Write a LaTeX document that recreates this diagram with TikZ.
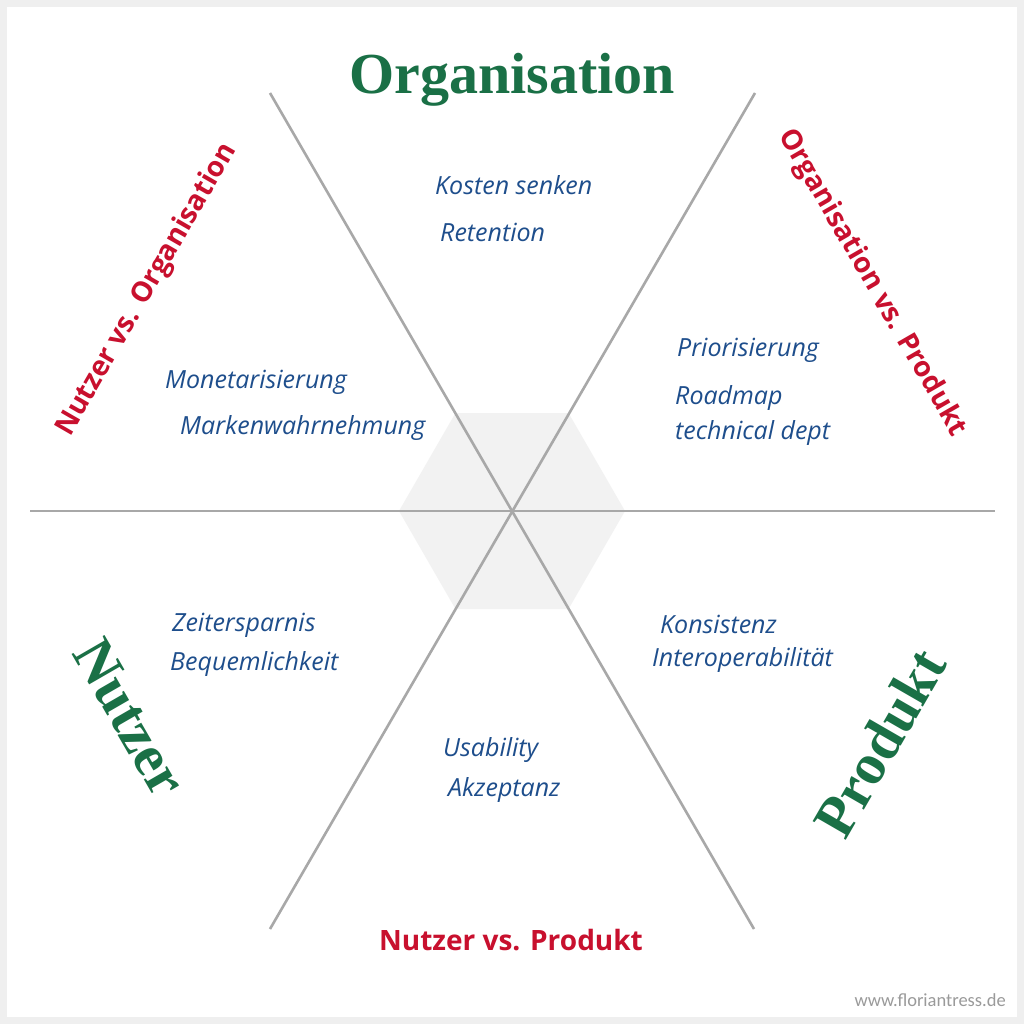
\documentclass[tikz,border=0pt]{standalone}
\usepackage{fontspec}
\setmainfont{Liberation Serif}
\newfontfamily\redfont{Open Sans}
\newfontfamily\handfont{Open Sans}
\newfontfamily\markfont{Carlito}
\definecolor{frame}{HTML}{EFEFEF}
\definecolor{hexfill}{HTML}{F2F2F2}
\definecolor{axis}{HTML}{A8A8A8}
\definecolor{dimgreen}{HTML}{1A7046}
\definecolor{dimred}{HTML}{C8102E}
\definecolor{ink}{HTML}{1E4E8C}
\definecolor{mark}{HTML}{9A9A9A}
\tikzset{
  axisline/.style={draw=axis, line width=2.6pt},
  dimlabel/.style={text=dimgreen, font=\fontsize{58}{60}\selectfont\bfseries, inner sep=0pt},
  pairlabel/.style={text=dimred, font=\redfont\fontsize{28}{30}\selectfont\bfseries, inner sep=0pt},
  note/.style={text=ink, font=\handfont\itshape\fontsize{25}{27}\selectfont, anchor=west, inner sep=0pt},
}
\begin{document}
\begin{tikzpicture}[x=1pt,y=-1pt]
\useasboundingbox (0,0) rectangle (1024,1024);
\fill[frame] (0,0) rectangle (1024,1024);
\fill[white] (7,7) rectangle (1017,1017);
% hexagon
\fill[hexfill] (399,511) -- (455.5,413) -- (568.5,413) -- (625,511) -- (568.5,609) -- (455.5,609) -- cycle;
% axes
\coordinate (hl) at (30,511);
\coordinate (hr) at (995,511);
\coordinate (d1a) at (270,93);
\coordinate (d1b) at (754,929);
\coordinate (d2a) at (755,93);
\coordinate (d2b) at (270,929);
\draw[axisline] (hl) -- (hr);
\draw[axisline] (d1a) -- (d1b);
\draw[axisline] (d2a) -- (d2b);
% dimension labels
\node[dimlabel] (org) at (512,80) {Organisation};
\node[dimlabel, rotate=-60] (nutzer) at (130,718) {Nutzer};
\node[dimlabel, rotate=60] (produkt) at (880,743) {Produkt};
% pair labels
\node[pairlabel, rotate=60] (nvo) at (147,290) {Nutzer vs. Organisation};
\node[pairlabel, rotate=-60] (ovp) at (872,283) {Organisation vs. Produkt};
\node[pairlabel] (nvp) at (511,940) {Nutzer vs. Produkt};
% notes
\node[note] (n1) at (435,185) {Kosten senken};
\node[note] (n2) at (440,232) {Retention};
\node[note] (n3) at (677,350) {Priorisierung};
\node[note] (n4) at (675,398) {Roadmap};
\node[note] (n5) at (675,433) {technical dept};
\node[note] (n6) at (165,382) {Monetarisierung};
\node[note] (n7) at (180,428) {Markenwahrnehmung};
\node[note] (n8) at (172,625) {Zeitersparnis};
\node[note] (n9) at (170,664) {Bequemlichkeit};
\node[note] (n10) at (660,624) {Konsistenz};
\node[note] (n11) at (652,660) {Interoperabilität};
\node[note] (n12) at (443,750) {Usability};
\node[note] (n13) at (448,790) {Akzeptanz};
% watermark
\node[text=mark, font=\markfont\fontsize{18.5}{20}\selectfont, anchor=east, inner sep=0pt] (wm) at (1006,1000) {www.floriantress.de};
\end{tikzpicture}
\end{document}
